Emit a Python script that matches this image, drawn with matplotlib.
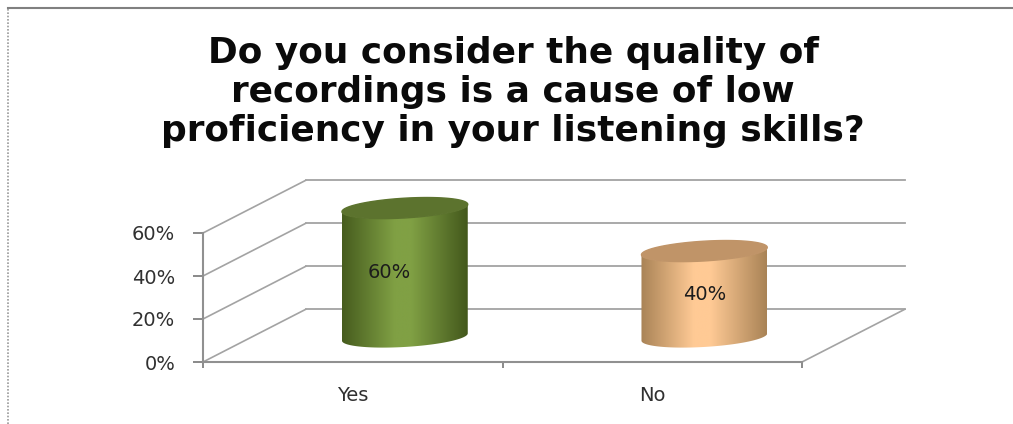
import matplotlib
matplotlib.use('Agg')
import matplotlib.pyplot as plt
import numpy as np
from matplotlib.colors import LinearSegmentedColormap
from matplotlib.lines import Line2D
from matplotlib.patches import PathPatch
from matplotlib.path import Path

# Values
categories = ['Yes', 'No']
values = [60, 40]
value_labels = ['60%', '40%']
y_ticks = [0, 20, 40, 60]
y_tick_labels = ['0%', '20%', '40%', '60%']
title = ('Do you consider the quality of\n'
         'recordings is a cause of low\n'
         'proficiency in your listening skills?')

# Colours of each cylinder: edge, centre, top
body_colors = [['#465c1e', '#80a044', '#43581c'], ['#a98356', '#ffca95', '#a98356']]
top_colors = ['#5c732e', '#c09468']
grid_color = '#a3a3a3'

# Fake 3D: how far the back wall sits from the front of the floor, in data units
wall_dx = 0.343
wall_dy = 24.5
radius = 0.21
squash = 4.6
tilt = 1.7
depth = 0.174
floor_up = 11.6

fig = plt.figure(figsize=(10.13, 4.24), dpi=100)
ax = fig.add_axes([203 / 1013, 1 - 362 / 424, 599 / 1013, 129 / 424])
ax.patch.set_alpha(0)

# Only the top and left of the outer frame are in the picture
fig.add_artist(Line2D([8 / 1013, 1], [1 - 8 / 424, 1 - 8 / 424], color='#808080', lw=1.5))
fig.add_artist(Line2D([8 / 1013, 8 / 1013], [0, 1 - 8 / 424], color='#9a9a9a', lw=1.2, ls=(0, (1, 1))))

# Walls and floor
for y in y_ticks:
    ax.plot([-0.5, -0.5 + wall_dx], [y, y + wall_dy], color=grid_color, lw=1.2, clip_on=False, zorder=1)
    ax.plot([-0.5 + wall_dx, 1.5 + wall_dx], [y + wall_dy, y + wall_dy], color=grid_color, lw=1.3,
            clip_on=False, zorder=1)
ax.plot([1.5, 1.5 + wall_dx], [0, wall_dy], color=grid_color, lw=1.2, clip_on=False, zorder=1)


def ellipse(cx, cy, t):
    return cx + radius * np.cos(t), cy + squash * np.sin(t) + tilt * np.cos(t)


for i, value in enumerate(values):
    cx = i + depth
    t_low = np.linspace(np.pi, 2 * np.pi, 60)
    t_up = np.linspace(0, 2 * np.pi, 120)

    # body: bottom arc then lower arc of the top, filled with a sideways gradient
    x0, y0 = ellipse(cx, floor_up, t_low)
    x1, y1 = ellipse(cx, floor_up + value, t_low[::-1])
    verts = np.column_stack([np.r_[x0, x1], np.r_[y0, y1]])
    clip = PathPatch(Path(np.vstack([verts, verts[0]])), transform=ax.transData, fc='none', ec='none')
    ax.add_patch(clip)
    cmap = LinearSegmentedColormap.from_list('body', [(0, body_colors[i][0]), (0.42, body_colors[i][1]),
                                                      (0.55, body_colors[i][1]), (1, body_colors[i][2])])
    im = ax.imshow(np.linspace(0, 1, 256)[None, :], cmap=cmap, aspect='auto', zorder=3,
                   extent=[cx - radius, cx + radius, 0, floor_up + value + squash + tilt])
    im.set_clip_box(fig.bbox)
    im.set_clip_path(clip)

    xt, yt = ellipse(cx, floor_up + value, t_up)
    ax.fill(xt, yt, color=top_colors[i], zorder=4, clip_on=False)

    label_dx = -0.053 if i == 0 else 0
    ax.text(cx + label_dx, floor_up + value / 2, value_labels[i], ha='center', va='center',
            fontsize=14, color='#1c1c1c', zorder=5)

ax.set_xlim(-0.5, 1.5)
ax.set_ylim(0, 60)
ax.set_xticks([-0.5, 0.5, 1.5])
ax.set_xticklabels([])
ax.set_xticks([0, 1], minor=True)
ax.set_xticklabels(categories, minor=True, fontsize=14, color='#303030')
ax.tick_params(axis='x', which='major', length=4.5, width=1.3, color='#808080')
ax.tick_params(axis='x', which='minor', length=0, pad=17)
ax.set_yticks(y_ticks)
ax.set_yticklabels(y_tick_labels, fontsize=14, color='#303030')
ax.tick_params(axis='y', length=7, width=1.3, color='#808080', pad=13)
for side in ['top', 'right']:
    ax.spines[side].set_visible(False)
for side in ['left', 'bottom']:
    ax.spines[side].set_color('#909090')
    ax.spines[side].set_linewidth(1.5)

fig.text(513 / 1013, 1 - 92 / 424, title, ha='center', va='center', fontsize=25.8, fontweight='bold',
         family='DejaVu Sans', linespacing=1.2, color='#0a0a0a')

fig.savefig('out.png', dpi=100)
